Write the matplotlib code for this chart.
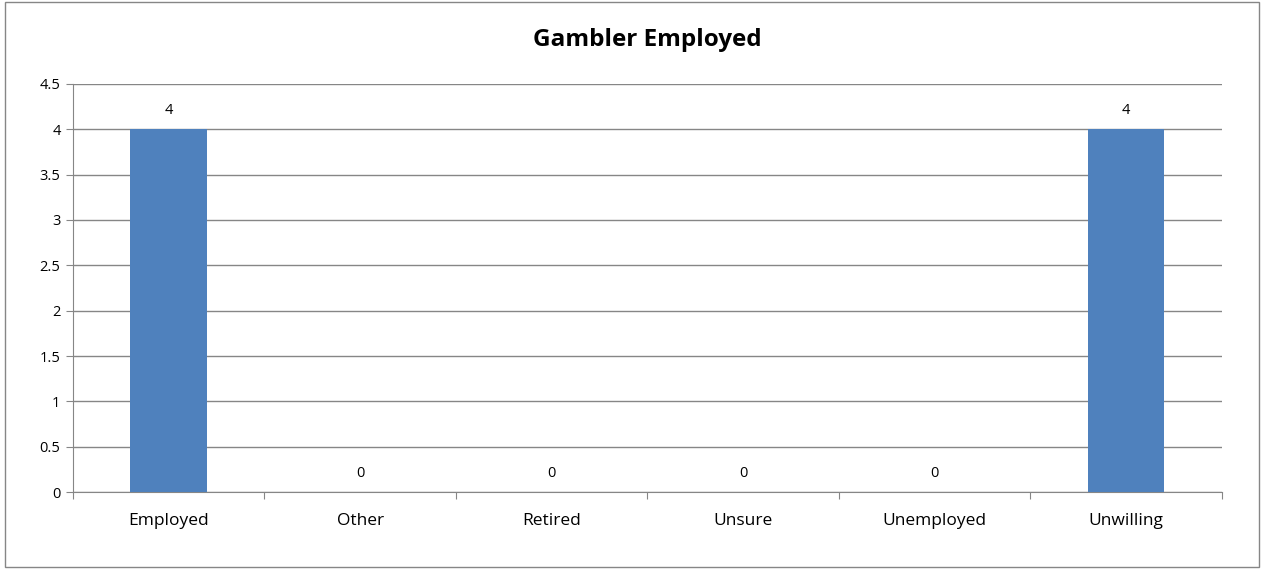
import matplotlib
matplotlib.use("Agg")
import matplotlib.pyplot as plt
from matplotlib.patches import Rectangle
import numpy as np

plt.rcParams.update({"font.family": ["Open Sans", "DejaVu Sans"], "font.size": 9})

categories = ["Employed", "Other", "Retired", "Unsure", "Unemployed", "Unwilling"]
counts = [4, 0, 0, 0, 0, 4]
yticks = [0, 0.5, 1, 1.5, 2, 2.5, 3, 3.5, 4, 4.5]

BAR = "#4f81bd"; GRID = "#868686"

fig = plt.figure(figsize=(12.61, 5.69), dpi=100)
ax = fig.add_axes([0.0579, 0.1353, 0.911, 0.7171])
x = np.arange(len(categories))
ax.bar(x, counts, width=0.4, color=BAR, zorder=3)
for xi, v in zip(x, counts):
    ax.text(xi, v + 0.12, f"{v}", ha="center", va="bottom", fontsize=10.5, color="#000")

ax.set_xlim(-0.5, len(categories) - 0.5)
ax.set_ylim(0, 4.5)
ax.set_yticks(yticks)
ax.set_yticklabels([f"{t:g}" for t in yticks], fontsize=10.5)
ax.set_xticks(np.arange(-0.5, len(categories)), minor=False)
ax.set_xticklabels([])
ax.set_xticks(x, minor=True)
ax.set_xticklabels(categories, minor=True, fontsize=12.5)
ax.tick_params(axis="x", which="minor", length=0, pad=15)
ax.tick_params(axis="x", which="major", length=5, color=GRID, direction="out")
ax.tick_params(axis="y", length=5, color=GRID, direction="out", pad=4)
ax.yaxis.grid(True, color=GRID, lw=1, zorder=0)
for s in ("top", "right"):
    ax.spines[s].set_visible(False)
for s in ("left", "bottom"):
    ax.spines[s].set_color(GRID)
ax.set_title("Gambler Employed", fontsize=17.5, fontweight="bold", pad=27)

fig.patches.append(Rectangle((5 / 1261, 2 / 569), 1254 / 1261, 565 / 569,
                             transform=fig.transFigure, fill=False, ec=GRID, lw=1))
fig.savefig("out.png", dpi=100)
